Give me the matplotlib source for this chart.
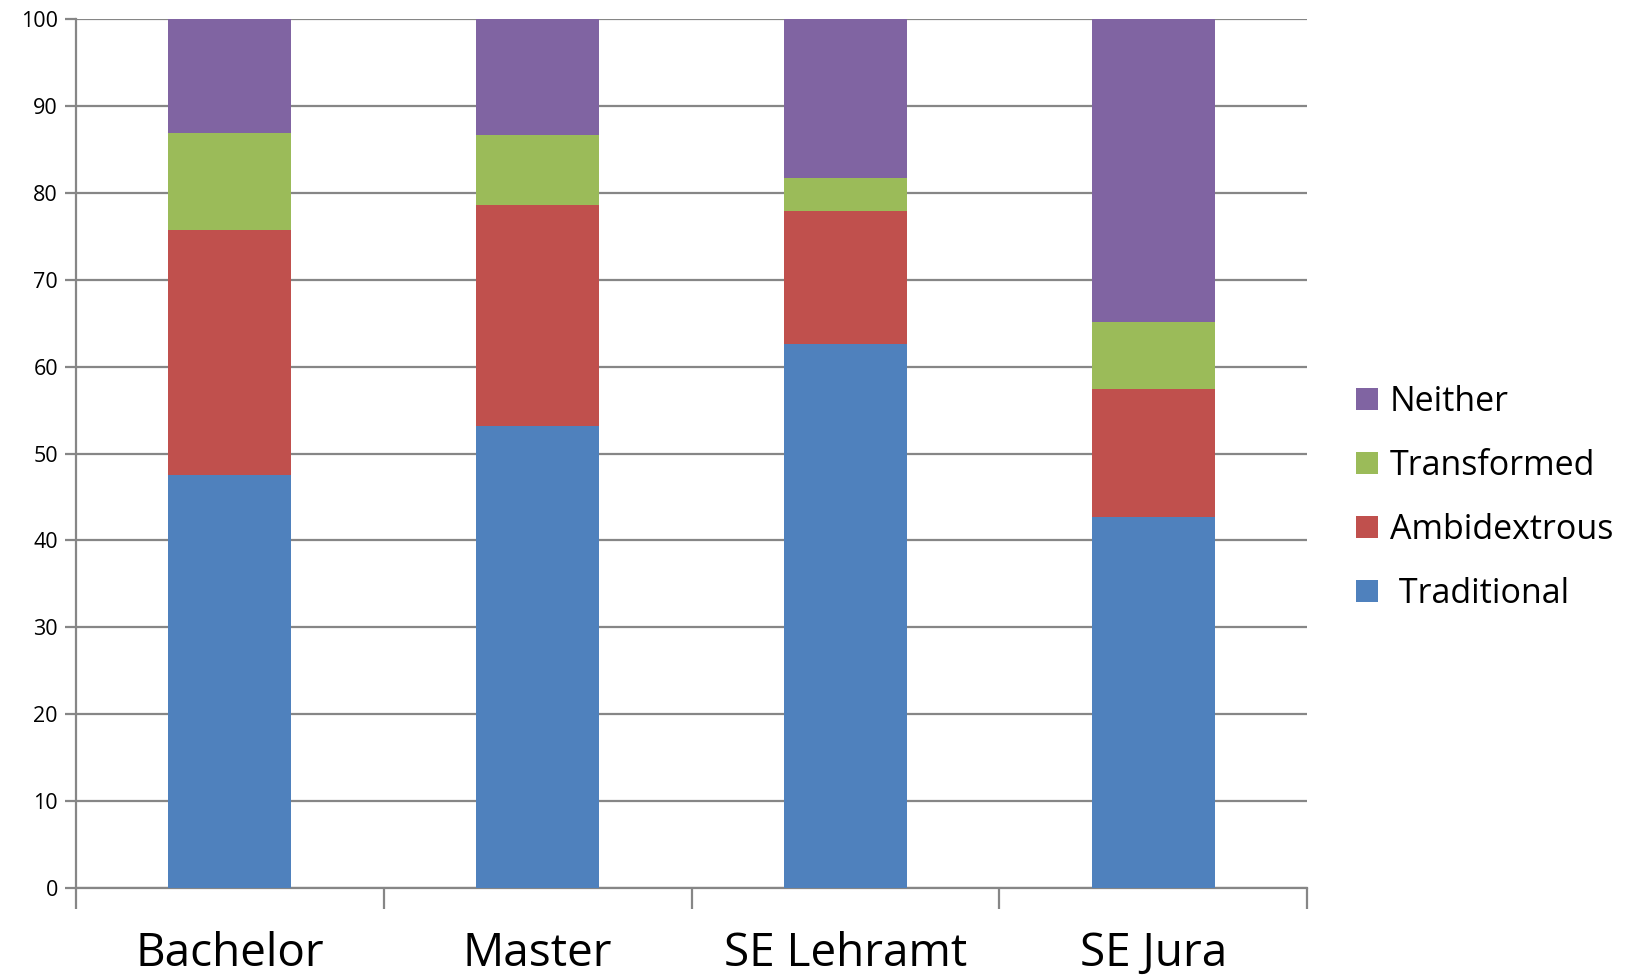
import matplotlib
matplotlib.use("Agg")
import matplotlib.pyplot as plt
import numpy as np

categories = ["Bachelor", "Master", "SE Lehramt", "SE Jura"]
traditional = [47.5, 53.2, 62.6, 42.7]
ambidextrous = [28.2, 25.45, 15.3, 14.75]
transformed = [11.2, 8.05, 3.85, 7.65]
neither = [13.1, 13.3, 18.25, 34.9]
series_names = [" Traditional", "Ambidextrous", "Transformed", "Neither"]
colors = ["#4F81BD", "#C0504D", "#9BBB59", "#8064A2"]
yticks = [0, 10, 20, 30, 40, 50, 60, 70, 80, 90, 100]

plt.rcParams['font.family'] = ['Open Sans', 'DejaVu Sans']

fig = plt.figure(figsize=(16.28, 9.76), dpi=100)
ax = fig.add_axes([76/1628, 1-888/976, (1307-76)/1628, (888-19)/976])

x = np.arange(len(categories))
bottom = np.zeros(len(categories))
handles = []
for name, vals, c in zip(series_names, [traditional, ambidextrous, transformed, neither], colors):
    b = ax.bar(x, vals, 0.4, bottom=bottom, color=c, label=name, zorder=3,
               edgecolor='none')
    handles.append(b)
    bottom += np.array(vals)

ax.set_xlim(-0.5, len(categories) - 0.5)
ax.set_ylim(0, 100)
ax.set_yticks(yticks)
ax.set_yticklabels([str(v) for v in yticks], fontsize=15.5)
ax.yaxis.grid(True, color='#868686', linewidth=1.6, zorder=0)
ax.tick_params(axis='y', length=8, width=1.6, color='#868686', pad=5)

ax.set_xticks(x)
ax.set_xticklabels(categories, fontsize=33)
ax.tick_params(axis='x', which='major', length=0, pad=31)
ax.set_xticks(np.arange(-0.5, len(categories)), minor=True)
ax.tick_params(axis='x', which='minor', length=15, width=1.6, color='#868686')

for s in ['top', 'right']:
    ax.spines[s].set_visible(False)
for s in ['left', 'bottom']:
    ax.spines[s].set_color('#868686')
    ax.spines[s].set_linewidth(1.6)

leg = fig.legend(handles[::-1], series_names[::-1], loc='center left',
                 bbox_to_anchor=(1356/1628, 1-498/976), frameon=False,
                 fontsize=24.5, handlelength=0.65, handleheight=0.65,
                 handletextpad=0.35, labelspacing=0.88, borderpad=0,
                 borderaxespad=0)

fig.savefig("out.png", dpi=100)
